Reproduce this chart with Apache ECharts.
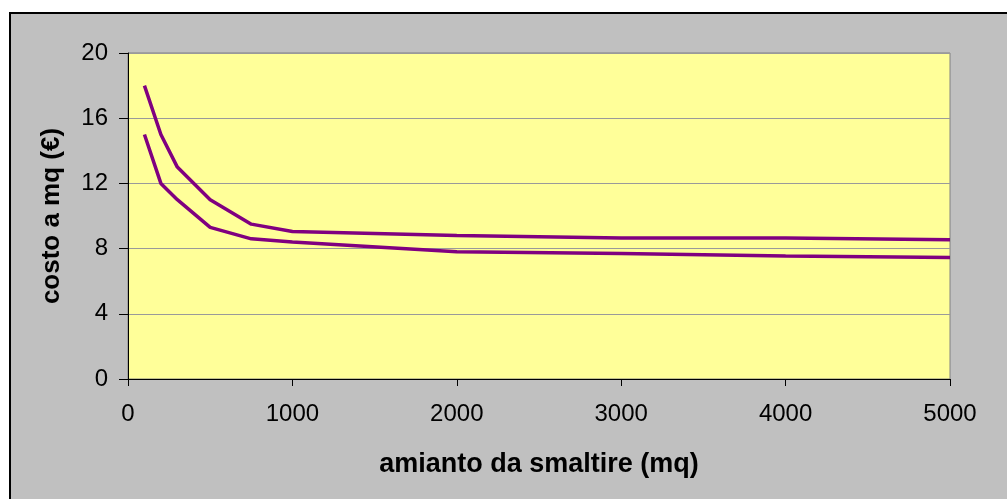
<!DOCTYPE html>
<html>
<head>
<meta charset="utf-8">
<script src="https://cdn.jsdelivr.net/npm/echarts@6/dist/echarts.min.js"></script>
<style>
  html, body { margin: 0; padding: 0; background: #fff; }
  #chart { width: 1007px; height: 499px; }
</style>
</head>
<body>
<div id="chart"></div>
<script>
// mq to dispose of
var mq = [100, 200, 300, 500, 750, 1000, 2000, 3000, 4000, 5000]
// cost per mq, upper and lower curve
var costHigh = [18, 15, 13, 11, 9.5, 9.05, 8.8, 8.65, 8.65, 8.55]
var costLow = [15, 12, 11, 9.3, 8.6, 8.4, 7.8, 7.7, 7.55, 7.45]
var yTicks = [0, 4, 8, 12, 16, 20]
var xTicks = [0, 1000, 2000, 3000, 4000, 5000]

function pairs(xs, ys) {
  return xs.map(function (x, i) { return [x, ys[i]] })
}

var myChart = echarts.init(document.getElementById('chart'))
var font = '"Liberation Sans", Arial, sans-serif'

var option = {
  animation: false,
  backgroundColor: '#ffffff',
  graphic: [
    {
      type: 'rect',
      shape: { x: 10, y: 13, width: 1010, height: 500 },
      style: { fill: '#c0c0c0', stroke: '#000', lineWidth: 2 },
      z: -10
    }
  ],
  grid: {
    left: 128,
    right: 57,
    top: 53,
    bottom: 120,
    show: true,
    backgroundColor: '#ffff99',
    borderColor: '#808080',
    borderWidth: 1
  },
  xAxis: {
    type: 'value',
    min: xTicks[0],
    max: xTicks[xTicks.length - 1],
    interval: 1000,
    name: 'amianto da smaltire (mq)',
    nameLocation: 'middle',
    nameGap: 72,
    nameTextStyle: { fontFamily: font, fontSize: 27, fontWeight: 'bold', color: '#000' },
    axisLine: { show: true, lineStyle: { color: '#000', width: 1 } },
    axisTick: { show: true, inside: false, length: 7, lineStyle: { color: '#000' } },
    axisLabel: {
      fontFamily: font, fontSize: 24, color: '#000', margin: 23,
      formatter: function (v) { return String(v) }
    },
    splitLine: { show: false }
  },
  yAxis: {
    type: 'value',
    min: yTicks[0],
    max: yTicks[yTicks.length - 1],
    interval: 4,
    name: 'costo a mq (€)',
    nameLocation: 'middle',
    nameGap: 63,
    nameTextStyle: { fontFamily: font, fontSize: 26, fontWeight: 'bold', color: '#000' },
    axisLine: { show: true, lineStyle: { color: '#000', width: 1 } },
    axisTick: { show: true, inside: false, length: 9, lineStyle: { color: '#000' } },
    axisLabel: { fontFamily: font, fontSize: 24, color: '#000', margin: 20 },
    splitLine: { show: true, lineStyle: { color: '#9a9a9a', width: 1 } }
  },
  series: [
    {
      type: 'line',
      data: pairs(mq, costHigh),
      showSymbol: false,
      lineStyle: { color: '#800080', width: 3.5 }
    },
    {
      type: 'line',
      data: pairs(mq, costLow),
      showSymbol: false,
      lineStyle: { color: '#800080', width: 3.5 }
    }
  ]
}

option && myChart.setOption(option)
</script>
</body>
</html>
